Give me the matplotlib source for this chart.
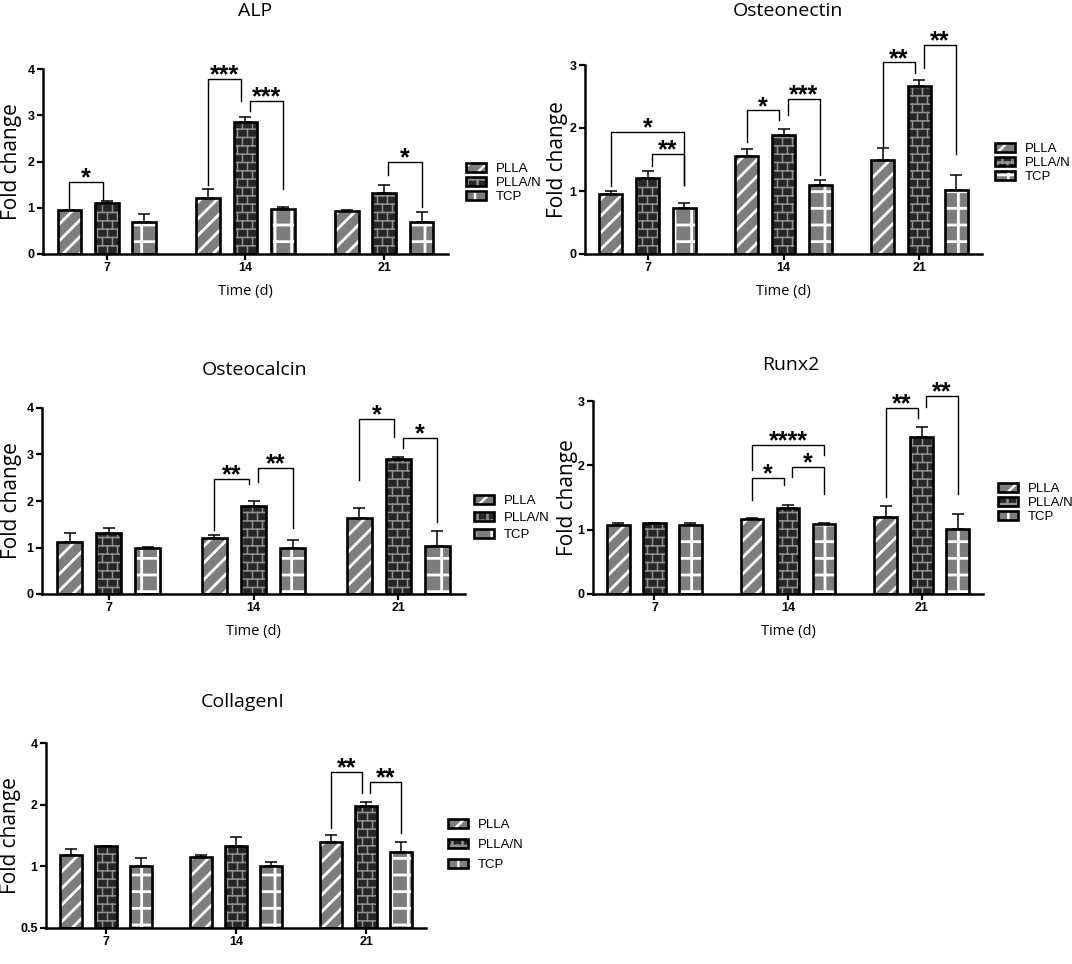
import numpy as np
import matplotlib
matplotlib.use('Agg')
import matplotlib.pyplot as plt
import matplotlib.hatch as mhatch
from matplotlib.path import Path
from matplotlib.legend_handler import HandlerTuple

# ---- data (mean fold change, upper SD) ----
days = ['7', '14', '21']
groups = ['PLLA', 'PLLA/N', 'TCP']

alp_mean = [[0.95, 1.22, 0.93], [1.10, 2.86, 1.32], [0.70, 0.98, 0.70]]
alp_err = [[0.01, 0.18, 0.03], [0.05, 0.10, 0.18], [0.16, 0.04, 0.20]]

osteonectin_mean = [[0.95, 1.56, 1.49], [1.21, 1.89, 2.66], [0.73, 1.10, 1.01]]
osteonectin_err = [[0.05, 0.10, 0.19], [0.10, 0.09, 0.10], [0.08, 0.07, 0.24]]

osteocalcin_mean = [[1.11, 1.20, 1.63], [1.31, 1.90, 2.91], [1.00, 1.00, 1.03]]
osteocalcin_err = [[0.20, 0.06, 0.22], [0.10, 0.11, 0.03], [0.02, 0.16, 0.32]]

runx2_mean = [[1.08, 1.17, 1.20], [1.10, 1.34, 2.44], [1.07, 1.09, 1.01]]
runx2_err = [[0.03, 0.005, 0.17], [0.01, 0.05, 0.15], [0.03, 0.01, 0.23]]

collagen_mean = [[1.13, 1.11, 1.31], [1.25, 1.26, 1.96], [1.00, 1.00, 1.17]]
collagen_err = [[0.09, 0.03, 0.12], [0.01, 0.13, 0.11], [0.10, 0.05, 0.14]]

# significance brackets: (day, bar_a, bar_b, top, left leg end, right leg end, label)
alp_sig = [(0, 0, 1, 1.56, 0.98, 1.16, '*'),
           (1, 0, 1, 3.79, 1.50, 3.30, '***'),
           (1, 1, 2, 3.31, 3.09, 1.40, '***'),
           (2, 1, 2, 2.00, 1.71, 1.02, '*')]
osteonectin_sig = [(0, 0, 2, 1.94, 1.08, 1.09, '*'),
                   (0, 1, 2, 1.59, 1.39, 1.09, '**'),
                   (1, 0, 1, 2.28, 1.77, 2.12, '*'),
                   (1, 1, 2, 2.46, 2.21, 1.25, '***'),
                   (2, 0, 1, 3.04, 1.71, 2.87, '**'),
                   (2, 1, 2, 3.32, 2.95, 1.58, '**')]
osteocalcin_sig = [(1, 0, 1, 2.47, 1.38, 2.37, '**'),
                   (1, 1, 2, 2.72, 2.40, 1.41, '**'),
                   (2, 0, 1, 3.77, 2.46, 3.37, '*'),
                   (2, 1, 2, 3.35, 3.14, 1.55, '*')]
runx2_sig = [(1, 0, 2, 2.32, 1.93, 2.16, '****'),
             (1, 0, 1, 1.80, 1.46, 1.69, '*'),
             (1, 1, 2, 1.98, 1.82, 1.56, '*'),
             (2, 0, 1, 2.89, 1.51, 2.73, '**'),
             (2, 1, 2, 3.08, 2.91, 1.55, '**')]
collagen_sig = [(2, 0, 1, 2.89, 1.54, 2.28, '**'),
                (2, 1, 2, 2.58, 2.28, 1.45, '**')]


# brick pattern for PLLA/N, hooked on the '*' hatch character
class BrickHatch(mhatch.HatchPatternBase):
    rows = 12
    cols = 10

    def __init__(self, hatch, density):
        if '*' in hatch:
            self.num_vertices = 2 * self.rows + 2 * self.cols * (self.rows + 1)
        else:
            self.num_vertices = 0

    def set_vertices_and_codes(self, vertices, codes):
        R, C = self.rows, self.cols
        segs = []
        for k in range(R):
            y0 = (k + 0.5) / R
            y1 = y0 + 1.0 / R
            segs.append([(0, y0), (1, y0)])
            off = 0.25 if k % 2 == 0 else 0.75
            for c in range(C):
                xx = (c + off) / C
                if y1 <= 1:
                    segs.append([(xx, y0), (xx, y1)])
                else:
                    segs.append([(xx, y0), (xx, 1)])
                    segs.append([(xx, 0), (xx, y1 - 1)])
        vertices[:] = np.array(segs, dtype=float).reshape(-1, 2)
        codes[0::2] = Path.MOVETO
        codes[1::2] = Path.LINETO


mhatch._hatch_types = [t for t in mhatch._hatch_types if t is not mhatch.Stars] + [BrickHatch]

styles = [dict(face='#7d7d7d', hcol='white', hatch='//', hlw=2.0),
          dict(face='#262626', hcol='#8f8f8f', hatch='*', hlw=1.1),
          dict(face='#7d7d7d', hcol='white', hatch='+', hlw=2.0)]

W, H = 1072, 964
plt.rcParams['font.family'] = ['Liberation Sans', 'DejaVu Sans']
plt.rcParams['hatch.linewidth'] = 1.8
fig = plt.figure(figsize=(W / 100, H / 100), dpi=100)
fig.patch.set_facecolor('white')

offsets = [-0.27, 0.0, 0.27]
bar_w = 0.17


def px_rect(l, r, t, b):
    return [l / W, 1 - b / H, (r - l) / W, (b - t) / H]


def draw_panel(box, title, title_xy, ylab_x, means, errs, sig, ylim, yticks,
               leg_xy, leg_space, time_y=None, log=False):
    l, r, t, b = box
    ax = fig.add_axes(px_rect(l, r, t, b))
    x = np.arange(len(days))
    base = ylim[0] if log else 0
    if log:
        ax.set_yscale('log', base=2)
    handles = []
    for k, sty in enumerate(styles):
        pos = x + offsets[k]
        m = np.array(means[k])
        with plt.rc_context({'hatch.linewidth': sty['hlw']}):
            f = ax.bar(pos, m - base, bar_w, bottom=base, color=sty['face'],
                       edgecolor=sty['hcol'], hatch=sty['hatch'], linewidth=0, zorder=2)
            for p in f:
                if hasattr(p, 'set_hatch_linewidth'):
                    p.set_hatch_linewidth(sty['hlw'])
        e = ax.bar(pos, m - base, bar_w, bottom=base, fill=False,
                   edgecolor='black', linewidth=1.9, zorder=3)
        ax.errorbar(pos, m, yerr=[np.zeros(len(m)), errs[k]], fmt='none',
                    ecolor='black', elinewidth=1.1, capsize=4.5, capthick=1.1, zorder=1)
        handles.append((f[0], e[0]))

    for d, i, j, yt, yl, yr, lab in sig:
        xl = x[d] + offsets[i] + (0.03 if i == 1 else 0)
        xr = x[d] + offsets[j] - (0.03 if j == 1 else 0)
        ax.plot([xl, xl, xr, xr], [yl, yt, yt, yr], color='black', lw=1.0,
                clip_on=False, zorder=4)
        ax.annotate(lab, ((xl + xr) / 2, yt), xytext=(0, -2.5), textcoords='offset points',
                    ha='center', va='baseline', fontsize=18, fontweight='bold',
                    annotation_clip=False)

    ax.set_xlim(-0.46, 2.46)
    ax.set_ylim(*ylim)
    ax.set_xticks(x)
    ax.set_xticklabels(days)
    ax.set_yticks(yticks)
    ax.set_yticklabels([('%g' % v) for v in yticks])
    ax.yaxis.set_minor_locator(matplotlib.ticker.NullLocator())
    for s in ['top', 'right']:
        ax.spines[s].set_visible(False)
    for s in ['left', 'bottom']:
        ax.spines[s].set_linewidth(1.8)
    ax.tick_params(axis='both', direction='out', length=4, width=1.6, pad=2,
                   labelsize=9)
    for lbl in ax.get_xticklabels() + ax.get_yticklabels():
        lbl.set_fontweight('bold')

    fig.text(title_xy[0] / W, 1 - title_xy[1] / H, title, ha='center', va='center',
             fontsize=14, family='Open Sans')
    fig.text(ylab_x / W, 1 - (t + b) / 2 / H, 'Fold change', rotation=90,
             ha='center', va='center', fontsize=15, family='Open Sans')
    if time_y is not None:
        fig.text((l + r) / 2 / W, 1 - time_y / H, 'Time (d)', ha='center',
                 va='center', fontsize=10.5, family='Open Sans')

    ax.legend(handles, groups, handler_map={tuple: HandlerTuple(ndivide=1)},
              loc='center left', bbox_to_anchor=(leg_xy[0] / W, 1 - leg_xy[1] / H),
              bbox_transform=fig.transFigure, frameon=False, fontsize=9.5,
              handlelength=1.5, handleheight=0.7, handletextpad=0.75,
              labelspacing=leg_space, borderpad=0, borderaxespad=0)
    return ax


draw_panel((43, 448, 69, 254), 'ALP', (255, 11), 12, alp_mean, alp_err, alp_sig,
           (0, 4), [0, 1, 2, 3, 4], (466, 183), 0.15, time_y=291)
draw_panel((585, 982, 65, 254), 'Osteonectin', (788, 11), 558, osteonectin_mean,
           osteonectin_err, osteonectin_sig, (0, 3), [0, 1, 2, 3], (995, 163), 0.12,
           time_y=291)
draw_panel((42, 465, 408, 594), 'Osteocalcin', (255, 370), 12, osteocalcin_mean,
           osteocalcin_err, osteocalcin_sig, (0, 4), [0, 1, 2, 3, 4], (474, 518), 0.35,
           time_y=632)
draw_panel((593, 983, 401, 594), 'Runx2', (791, 365), 567, runx2_mean, runx2_err,
           runx2_sig, (0, 3), [0, 1, 2, 3], (998, 503), 0.15, time_y=632)
draw_panel((46, 426, 743, 928), 'CollagenI', (243, 702), 11, collagen_mean,
           collagen_err, collagen_sig, (0.5, 4), [0.5, 1, 2, 4], (448, 845), 0.6,
           log=True)

fig.savefig('out.png', dpi=100, facecolor='white')
